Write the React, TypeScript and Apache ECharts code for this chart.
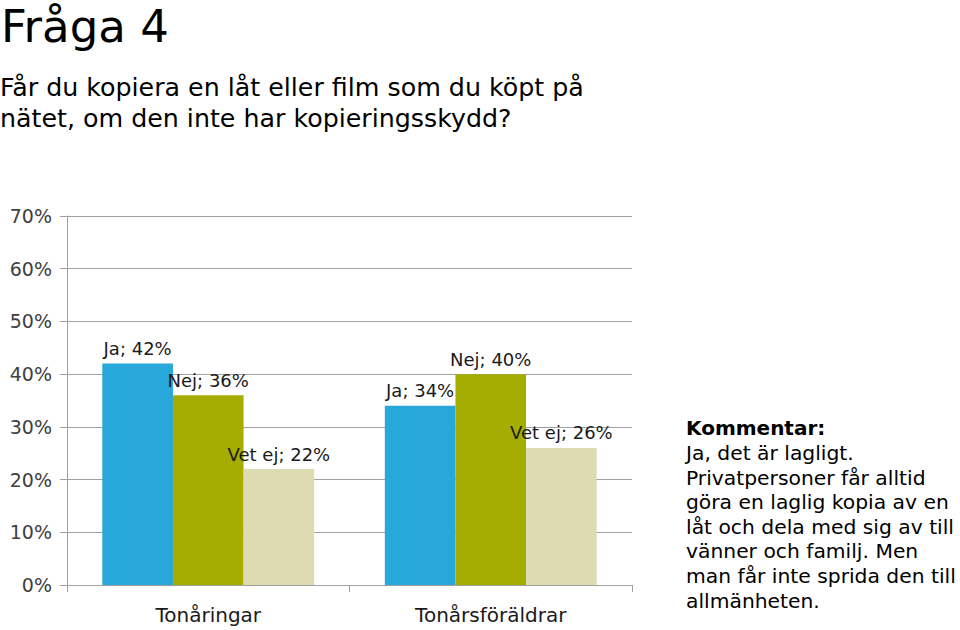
import React, { useEffect, useRef } from "react";
import * as echarts from "echarts";

const categories = ["Tonåringar", "Tonårsföräldrar"];
const seriesNames = ["Ja", "Nej", "Vet ej"];
const jaValues = [42, 34];
const nejValues = [36, 40];
const vetEjValues = [22, 26];
const yTicks = { min: 0, max: 70, interval: 10 };
const titleText = "Fråga 4";
const questionLines = [
  "Får du kopiera en låt eller film som du köpt på",
  "nätet, om den inte har kopieringsskydd?",
];
const commentHeading = "Kommentar:";
const commentLines = [
  "Ja, det är lagligt.",
  "Privatpersoner får alltid",
  "göra en laglig kopia av en",
  "låt och dela med sig av till",
  "vänner och familj. Men",
  "man får inte sprida den till",
  "allmänheten.",
];

const colors = ["#27A7DA", "#A5AE00", "#DEDBB3"];
const FONT = "DejaVu Sans";

export default function App() {
  const ref = useRef<HTMLDivElement>(null);
  useEffect(() => {
    if (!ref.current) return;
    const chart = echarts.init(ref.current, undefined, { renderer: "svg" });
    const values = [jaValues, nejValues, vetEjValues];
    const graphics: any[] = [
      {
        type: "text",
        left: 1,
        top: 4,
        style: { text: titleText, font: `45px '${FONT}'`, fill: "#000" },
      },
      ...questionLines.map((t, i) => ({
        type: "text",
        left: 0,
        top: 75 + i * 31,
        style: { text: t, font: `25.3px '${FONT}'`, fill: "#000" },
      })),
      {
        type: "text",
        left: 686,
        top: 418,
        style: { text: commentHeading, font: `bold 20px '${FONT}'`, fill: "#000" },
      },
      ...commentLines.map((t, i) => ({
        type: "text",
        left: 686,
        top: 443 + i * 24.6,
        style: { text: t, font: `20.3px '${FONT}'`, fill: "#000" },
      })),
    ];
    chart.setOption({
      animation: false,
      textStyle: { fontFamily: FONT },
      grid: { left: 67, top: 216, width: 565, height: 369, containLabel: false },
      xAxis: {
        type: "category",
        data: categories,
        axisLine: { lineStyle: { color: "#A0A0A0", width: 1 } },
        axisTick: { show: true, length: 7, lineStyle: { color: "#A0A0A0" } },
        axisLabel: { fontSize: 20, color: "#1a1a1a", margin: 20 },
      },
      yAxis: {
        type: "value",
        min: yTicks.min,
        max: yTicks.max,
        interval: yTicks.interval,
        axisLine: { show: true, lineStyle: { color: "#A0A0A0", width: 1 } },
        axisTick: { show: true, length: 7, lineStyle: { color: "#A0A0A0" } },
        axisLabel: { formatter: "{value}%", fontSize: 19, color: "#404040", margin: 15 },
        splitLine: { lineStyle: { color: "#A0A0A0", width: 1 } },
      },
      series: seriesNames.map((name, i) => ({
        name,
        type: "bar",
        data: values[i],
        barGap: "0%",
        barCategoryGap: "25%",
        itemStyle: { color: colors[i] },
        label: {
          show: true,
          position: "top",
          distance: 6,
          formatter: (p: any) => `${p.seriesName}; ${p.value}%`,
          fontSize: 18,
          color: "#1a1a1a",
        },
      })),
      graphic: graphics,
    });
    return () => chart.dispose();
  }, []);
  return (
    <div
      ref={ref}
      style={{ position: "absolute", left: 0, top: 0, width: 960, height: 630, background: "#fff" }}
    />
  );
}
